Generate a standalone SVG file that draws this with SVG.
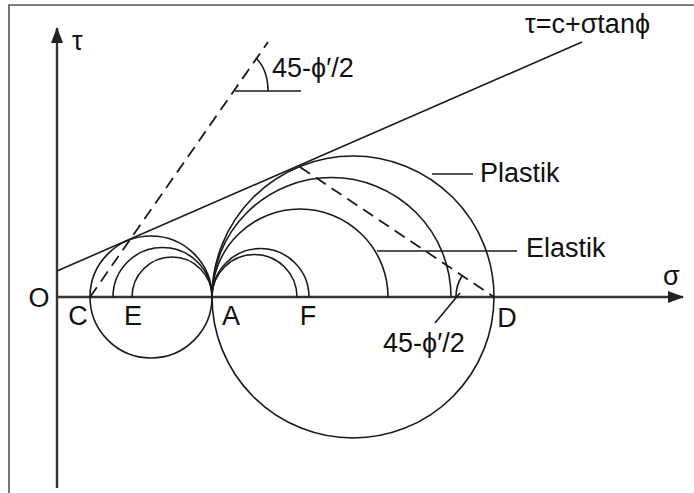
<svg xmlns="http://www.w3.org/2000/svg" width="694" height="493" viewBox="0 0 694 493">
<style>
.ln{fill:none;stroke:#1a1a1a;stroke-width:1.6}
.ax{fill:none;stroke:#333;stroke-width:2.4}
.ds{fill:none;stroke:#1a1a1a;stroke-width:1.8;stroke-dasharray:12 7}
.lb{font-family:"Liberation Sans",Arial,sans-serif;font-size:27px;fill:#111}
.mid{text-anchor:middle}
</style>
<defs>
<marker id="arr" viewBox="0 0 16 12" refX="15" refY="6" markerWidth="16" markerHeight="12" markerUnits="userSpaceOnUse" orient="auto">
<path d="M0,0 L16,6 L0,12 Z" fill="#222"/>
</marker>
</defs>
<rect width="694" height="493" fill="#fff"/>
<path d="M9,493 V5 H694" fill="none" stroke="#555" stroke-width="1.6"/>
<g id="axes">
<line class="ax" x1="57" y1="488" x2="57" y2="28" marker-end="url(#arr)"/>
<line class="ax" x1="57" y1="297" x2="683" y2="297" marker-end="url(#arr)"/>
</g>
<g id="circles">
<circle class="ln" cx="151" cy="297" r="61"/>
<circle class="ln" cx="353" cy="297" r="141"/>
<path class="ln" d="M113,297 A49.5,49.5 0 0 1 212,297"/>
<path class="ln" d="M132,297 A40,40 0 0 1 212,297"/>
<path class="ln" d="M212,297 A42.5,42.5 0 0 1 297,297"/>
<path class="ln" d="M212,297 A48.5,48.5 0 0 1 309,297"/>
<path class="ln" d="M212,297 A88,88 0 0 1 388,297"/>
<path class="ln" d="M212,297 A119.5,119.5 0 0 1 451,297"/>
</g>
<g id="connectors">
<line class="ln" x1="57" y1="271" x2="582" y2="42"/>
<line class="ds" x1="90" y1="297" x2="268" y2="42"/>
<line class="ds" x1="300" y1="167" x2="494" y2="297"/>
<line class="ln" x1="432" y1="174" x2="473" y2="174"/>
<line class="ln" x1="377" y1="251" x2="517" y2="251"/>
<line class="ln" x1="235" y1="91" x2="301" y2="91"/>
<path class="ln" d="M256,58 Q268,70 268,91"/>
<path class="ln" d="M462,276 A38,38 0 0 0 456,297"/>
<line class="ln" x1="435" y1="323" x2="460" y2="293"/>
</g>
<g id="labels">
<text class="lb" x="72" y="50">τ</text>
<text class="lb" x="663" y="285">σ</text>
<text class="lb mid" x="39" y="307">O</text>
<text class="lb mid" x="78" y="325">C</text>
<text class="lb mid" x="133" y="325">E</text>
<text class="lb mid" x="231" y="325">A</text>
<text class="lb mid" x="308" y="325">F</text>
<text class="lb mid" x="507" y="327">D</text>
<text class="lb" x="480" y="182">Plastik</text>
<text class="lb" x="526" y="257">Elastik</text>
<text class="lb" x="525" y="33">τ=c+σtanϕ</text>
<text class="lb" x="272" y="77">45-ϕ′/2</text>
<text class="lb" x="383" y="352">45-ϕ′/2</text>
</g>
</svg>
